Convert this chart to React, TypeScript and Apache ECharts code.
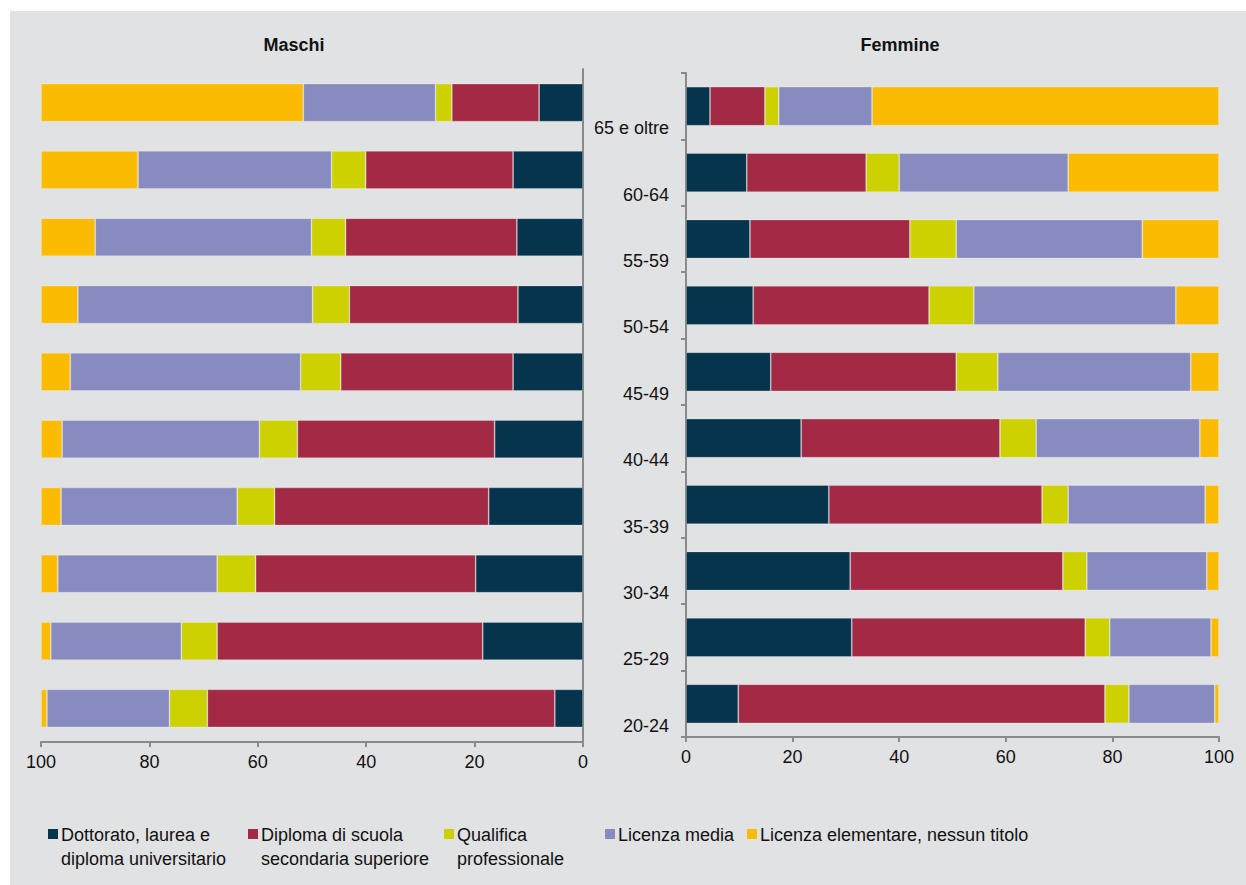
import React, { useEffect, useRef } from "react";
import * as echarts from "echarts";

const categories = ["20-24", "25-29", "30-34", "35-39", "40-44", "45-49", "50-54", "55-59", "60-64", "65 e oltre"];
const seriesNames = [
  "Dottorato, laurea e\ndiploma universitario",
  "Diploma di scuola\nsecondaria superiore",
  "Qualifica\nprofessionale",
  "Licenza media",
  "Licenza elementare, nessun titolo",
];
const colors = ["#06344c", "#a32a45", "#cdd100", "#878bbf", "#fbbb00"];

// Maschi (bottom 20-24 to top 65 e oltre)
const mDottorato = [5.2, 18.5, 19.8, 17.4, 16.3, 12.9, 12.0, 12.2, 12.9, 8.1];
const mDiploma = [64.1, 49.0, 40.6, 39.5, 36.4, 31.8, 31.1, 31.6, 27.2, 16.1];
const mQualifica = [7.0, 6.6, 7.1, 6.9, 7.0, 7.4, 6.8, 6.3, 6.3, 3.0];
const mMedia = [22.6, 24.1, 29.4, 32.5, 36.4, 42.5, 43.3, 39.9, 35.7, 24.4];
const mElementare = [1.1, 1.8, 3.1, 3.7, 3.9, 5.4, 6.8, 10.0, 17.9, 48.4];

// Femmine
const fDottorato = [9.8, 31.1, 30.8, 26.8, 21.6, 15.9, 12.6, 12.0, 11.4, 4.5];
const fDiploma = [68.8, 43.8, 39.9, 40.0, 37.3, 34.8, 33.0, 30.0, 22.4, 10.3];
const fQualifica = [4.5, 4.6, 4.5, 4.9, 6.8, 7.8, 8.4, 8.7, 6.2, 2.6];
const fMedia = [16.1, 19.0, 22.5, 25.7, 30.7, 36.2, 37.9, 34.9, 31.7, 17.5];
const fElementare = [0.8, 1.5, 2.3, 2.6, 3.6, 5.3, 8.1, 14.4, 28.3, 65.1];

const maschi = [mDottorato, mDiploma, mQualifica, mMedia, mElementare];
const femmine = [fDottorato, fDiploma, fQualifica, fMedia, fElementare];

const FONT = "'Liberation Sans', Arial, sans-serif";
const AXIS_COLOR = "#8a8a8a";

export default function App() {
  const ref = useRef<HTMLDivElement>(null);
  useEffect(() => {
    if (!ref.current) return;
    const chart = echarts.init(ref.current, null, { renderer: "svg" });

    const series: any[] = [];
    maschi.forEach((d, i) => {
      series.push({
        name: seriesNames[i],
        type: "bar",
        stack: "m",
        xAxisIndex: 0,
        yAxisIndex: 0,
        barWidth: 38,
        data: d,
        itemStyle: { color: colors[i], borderColor: "rgba(255,255,255,0.3)", borderWidth: 0.8 },
      });
    });
    femmine.forEach((d, i) => {
      series.push({
        name: seriesNames[i],
        type: "bar",
        stack: "f",
        xAxisIndex: 1,
        yAxisIndex: 1,
        barWidth: 39,
        data: d,
        itemStyle: { color: colors[i], borderColor: "rgba(255,255,255,0.3)", borderWidth: 0.8 },
      });
    });

    const legendX = [48, 248, 444, 605, 747];
    const legendGraphics: any[] = [];
    seriesNames.forEach((n, i) => {
      legendGraphics.push({
        type: "rect",
        shape: { x: legendX[i], y: 829, width: 10, height: 10 },
        style: { fill: colors[i] },
      });
      legendGraphics.push({
        type: "text",
        x: legendX[i] + 13,
        y: 823,
        style: {
          text: n,
          fill: "#111",
          font: `18px ${FONT}`,
          lineHeight: 24,
        },
      });
    });

    const xAxisCommon = {
      type: "value",
      min: 0,
      max: 100,
      interval: 20,
      splitLine: { show: false },
      axisLine: { show: true, lineStyle: { color: AXIS_COLOR, width: 2 } },
      axisTick: { show: true, length: 5, lineStyle: { color: AXIS_COLOR, width: 2 } },
      axisLabel: { color: "#111", fontSize: 18, fontFamily: FONT, margin: 11 },
    };

    chart.setOption({
      animation: false,
      backgroundColor: "#ffffff",
      textStyle: { fontFamily: FONT },
      graphic: [
        {
          type: "rect",
          z: -10,
          shape: { x: 10, y: 11, width: 1236, height: 874 },
          style: { fill: "#e1e2e4" },
        },
        {
          type: "text",
          x: 294,
          y: 45,
          style: { text: "Maschi", fill: "#111", font: `bold 18px ${FONT}`, align: "center", verticalAlign: "middle" },
        },
        {
          type: "text",
          x: 900,
          y: 45,
          style: { text: "Femmine", fill: "#111", font: `bold 18px ${FONT}`, align: "center", verticalAlign: "middle" },
        },
        ...legendGraphics,
      ],
      grid: [
        { left: 41, top: 69, width: 542, height: 673 },
        { left: 686, top: 73, width: 533, height: 664 },
      ],
      xAxis: [
        { ...xAxisCommon, gridIndex: 0, inverse: true },
        { ...xAxisCommon, gridIndex: 1 },
      ],
      yAxis: [
        {
          type: "category",
          gridIndex: 0,
          data: categories,
          position: "right",
          axisLine: { show: true, lineStyle: { color: AXIS_COLOR, width: 2 } },
          axisTick: { show: false },
          axisLabel: { show: false },
        },
        {
          type: "category",
          gridIndex: 1,
          data: categories,
          position: "left",
          axisLine: { show: true, lineStyle: { color: AXIS_COLOR, width: 2 } },
          axisTick: { show: true, length: 5, alignWithLabel: false, lineStyle: { color: AXIS_COLOR, width: 2 } },
          axisLabel: {
            color: "#111",
            fontSize: 18,
            fontFamily: FONT,
            margin: 17,
            lineHeight: 22,
            verticalAlign: "middle",
            formatter: (v: string) => "\n\n" + v,
          },
        },
      ],
      series,
    });
    return () => chart.dispose();
  }, []);
  return (
    <div
      ref={ref}
      style={{ position: "absolute", left: 0, top: 0, width: 1246, height: 885 }}
    />
  );
}
